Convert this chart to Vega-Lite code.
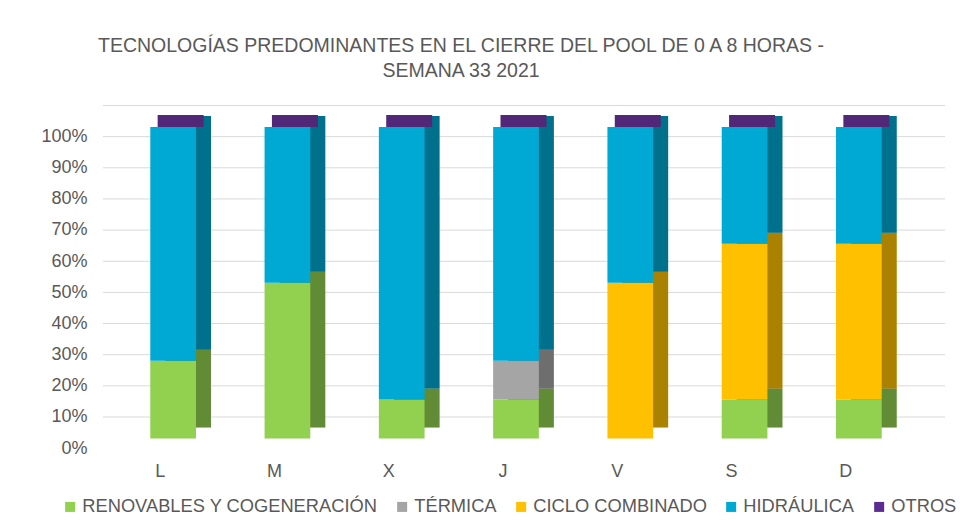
{
  "$schema": "https://vega.github.io/schema/vega-lite/v6.json",
  "autosize": "none",
  "width": 800,
  "height": 311.5,
  "padding": {"left": 103, "top": 136.5, "right": 70, "bottom": 73},
  "background": "white",
  "title": {
    "text": ["TECNOLOGÍAS PREDOMINANTES EN EL CIERRE DEL POOL DE 0 A 8 HORAS -", "SEMANA 33 2021"],
    "frame": "group",
    "anchor": "middle",
    "dx": -42,
    "offset": 24,
    "font": "Liberation Sans",
    "fontSize": 19.5,
    "fontWeight": "normal",
    "color": "#595959",
    "lineHeight": 25
  },
  "datasets": {
    "grid": [
      {"nivel": 0}, {"nivel": 0.1}, {"nivel": 0.2}, {"nivel": 0.3}, {"nivel": 0.4}, {"nivel": 0.5},
      {"nivel": 0.6}, {"nivel": 0.7}, {"nivel": 0.8}, {"nivel": 0.9}, {"nivel": 1}
    ]
  },
  "data": {
    "values": [
      {"Dia": "L", "Tecnologia": "RENOVABLES Y COGENERACIÓN", "Orden": 1, "Horas": 2},
      {"Dia": "L", "Tecnologia": "HIDRÁULICA", "Orden": 4, "Horas": 6},
      {"Dia": "L", "Tecnologia": "OTROS", "Orden": 5, "Horas": 0},
      {"Dia": "M", "Tecnologia": "RENOVABLES Y COGENERACIÓN", "Orden": 1, "Horas": 4},
      {"Dia": "M", "Tecnologia": "HIDRÁULICA", "Orden": 4, "Horas": 4},
      {"Dia": "M", "Tecnologia": "OTROS", "Orden": 5, "Horas": 0},
      {"Dia": "X", "Tecnologia": "RENOVABLES Y COGENERACIÓN", "Orden": 1, "Horas": 1},
      {"Dia": "X", "Tecnologia": "HIDRÁULICA", "Orden": 4, "Horas": 7},
      {"Dia": "X", "Tecnologia": "OTROS", "Orden": 5, "Horas": 0},
      {"Dia": "J", "Tecnologia": "RENOVABLES Y COGENERACIÓN", "Orden": 1, "Horas": 1},
      {"Dia": "J", "Tecnologia": "TÉRMICA", "Orden": 2, "Horas": 1},
      {"Dia": "J", "Tecnologia": "HIDRÁULICA", "Orden": 4, "Horas": 6},
      {"Dia": "J", "Tecnologia": "OTROS", "Orden": 5, "Horas": 0},
      {"Dia": "V", "Tecnologia": "CICLO COMBINADO", "Orden": 3, "Horas": 4},
      {"Dia": "V", "Tecnologia": "HIDRÁULICA", "Orden": 4, "Horas": 4},
      {"Dia": "V", "Tecnologia": "OTROS", "Orden": 5, "Horas": 0},
      {"Dia": "S", "Tecnologia": "RENOVABLES Y COGENERACIÓN", "Orden": 1, "Horas": 1},
      {"Dia": "S", "Tecnologia": "CICLO COMBINADO", "Orden": 3, "Horas": 4},
      {"Dia": "S", "Tecnologia": "HIDRÁULICA", "Orden": 4, "Horas": 3},
      {"Dia": "S", "Tecnologia": "OTROS", "Orden": 5, "Horas": 0},
      {"Dia": "D", "Tecnologia": "RENOVABLES Y COGENERACIÓN", "Orden": 1, "Horas": 1},
      {"Dia": "D", "Tecnologia": "CICLO COMBINADO", "Orden": 3, "Horas": 4},
      {"Dia": "D", "Tecnologia": "HIDRÁULICA", "Orden": 4, "Horas": 3},
      {"Dia": "D", "Tecnologia": "OTROS", "Orden": 5, "Horas": 0}
    ]
  },
  "encoding": {
    "x": {
      "field": "Dia",
      "type": "nominal",
      "sort": ["L", "M", "X", "J", "V", "S", "D"],
      "scale": {"paddingInner": 0.6, "paddingOuter": 0.3},
      "axis": {
        "title": null,
        "labelAngle": 0,
        "domain": false,
        "ticks": false,
        "grid": false,
        "labelPadding": 14,
        "labelFont": "Liberation Sans",
        "labelFontSize": 18,
        "labelColor": "#595959"
      }
    }
  },
  "layer": [
    {
      "data": {"name": "grid"},
      "mark": {"type": "rule", "color": "#D9D9D9", "strokeWidth": 1, "xOffset": 42, "yOffset": -31},
      "encoding": {
        "x": null,
        "y": {
          "field": "nivel",
          "type": "quantitative",
          "scale": {"domain": [0, 1], "nice": false},
          "axis": {"title": null, "format": "%", "values": [0, 0.1, 0.2, 0.3, 0.4, 0.5, 0.6, 0.7, 0.8, 0.9, 1], "labelOverlap": false, "domain": false, "ticks": false, "grid": false, "labelPadding": 16, "labelFont": "Liberation Sans", "labelFontSize": 18, "labelColor": "#595959"}
        }
      }
    },
    {
      "mark": {"type": "bar", "xOffset": 28, "yOffset": -20.5},
      "encoding": {
        "y": {"field": "Horas", "aggregate": "sum", "type": "quantitative", "stack": "normalize",
          "axis": {"title": null, "format": "%", "values": [0, 0.1, 0.2, 0.3, 0.4, 0.5, 0.6, 0.7, 0.8, 0.9, 1], "labelOverlap": false, "domain": false, "ticks": false, "grid": false, "labelPadding": 16, "labelFont": "Liberation Sans", "labelFontSize": 18, "labelColor": "#595959"}},
        "color": {"field": "Tecnologia", "type": "nominal"},
        "order": {"field": "Orden", "type": "quantitative"}
      }
    },
    {
      "mark": {"type": "bar", "xOffset": 28, "yOffset": -20.5, "color": "black", "opacity": 0.33},
      "encoding": {
        "y": {"field": "Horas", "aggregate": "sum", "type": "quantitative", "stack": "normalize",
          "axis": {"title": null, "format": "%", "values": [0, 0.1, 0.2, 0.3, 0.4, 0.5, 0.6, 0.7, 0.8, 0.9, 1], "labelOverlap": false, "domain": false, "ticks": false, "grid": false, "labelPadding": 16, "labelFont": "Liberation Sans", "labelFontSize": 18, "labelColor": "#595959"}},
        "detail": {"field": "Tecnologia", "type": "nominal"},
        "order": {"field": "Orden", "type": "quantitative"}
      }
    },
    {
      "transform": [{"filter": "datum.Tecnologia == 'OTROS'"}],
      "mark": {"type": "tick", "color": "#512878", "thickness": 12, "size": 46, "xOffset": 20.5, "yOffset": -15.5, "opacity": 1},
      "encoding": {
        "y": {"datum": 1, "type": "quantitative",
          "axis": {"title": null, "format": "%", "values": [0, 0.1, 0.2, 0.3, 0.4, 0.5, 0.6, 0.7, 0.8, 0.9, 1], "labelOverlap": false, "domain": false, "ticks": false, "grid": false, "labelPadding": 16, "labelFont": "Liberation Sans", "labelFontSize": 18, "labelColor": "#595959"}}
      }
    },
    {
      "mark": {"type": "bar", "xOffset": 13, "yOffset": -9.5},
      "encoding": {
        "y": {"field": "Horas", "aggregate": "sum", "type": "quantitative", "stack": "normalize",
          "axis": {"title": null, "format": "%", "values": [0, 0.1, 0.2, 0.3, 0.4, 0.5, 0.6, 0.7, 0.8, 0.9, 1], "labelOverlap": false, "domain": false, "ticks": false, "grid": false, "labelPadding": 16, "labelFont": "Liberation Sans", "labelFontSize": 18, "labelColor": "#595959"}},
        "color": {
          "field": "Tecnologia",
          "type": "nominal",
          "scale": {
            "domain": ["RENOVABLES Y COGENERACIÓN", "TÉRMICA", "CICLO COMBINADO", "HIDRÁULICA", "OTROS"],
            "range": ["#92D050", "#A5A5A5", "#FFC000", "#00A9D3", "#5C2D91"]
          },
          "legend": {
            "title": null,
            "orient": "none",
            "direction": "horizontal",
            "columns": 5,
            "legendX": -42,
            "legendY": 361,
            "symbolType": "square",
            "symbolSize": 100,
            "symbolStrokeWidth": 0,
            "labelOffset": 3,
            "columnPadding": 15,
            "labelFont": "Liberation Sans",
            "labelFontSize": 18.3,
            "labelColor": "#595959",
            "labelLimit": 400
          }
        },
        "order": {"field": "Orden", "type": "quantitative"}
      }
    }
  ],
  "config": {
    "view": {"stroke": null},
    "axis": {"grid": false}
  }
}
